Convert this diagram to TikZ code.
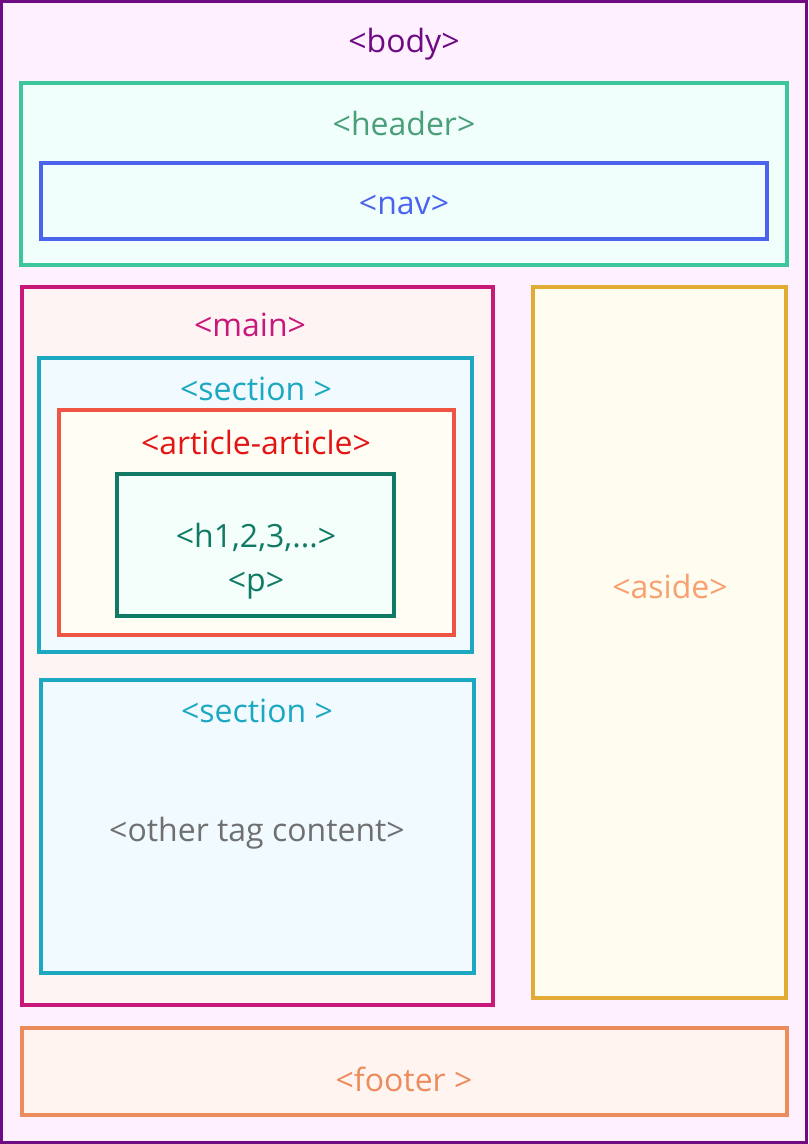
\documentclass[tikz,border=0pt]{standalone}
\usepackage{fontspec}
\setmainfont{Open Sans}
\tikzset{every picture/.style={x=0.75pt, y=-0.75pt}}
\tikzset{box/.style 2 args={draw, rectangle, line width=2.5pt, inner sep=0pt,
    minimum width=#1*0.75pt, minimum height=#2*0.75pt}}
\tikzset{tag/.style={inner sep=0pt, font=\fontsize{24}{28}\selectfont}}
\definecolor{bodyline}{HTML}{6E0A82}
\definecolor{bodyfill}{HTML}{FFF0FF}
\definecolor{headline}{HTML}{3CC69A}
\definecolor{headtext}{HTML}{4A9E78}
\definecolor{headfill}{HTML}{F0FFFC}
\definecolor{navline}{HTML}{4A64EE}
\definecolor{mainline}{HTML}{C8187A}
\definecolor{mainfill}{HTML}{FFF4F4}
\definecolor{secline}{HTML}{1CA8C0}
\definecolor{secfill}{HTML}{F0FAFF}
\definecolor{artline}{HTML}{F05444}
\definecolor{arttext}{HTML}{E21414}
\definecolor{artfill}{HTML}{FFFDF4}
\definecolor{hline}{HTML}{107A64}
\definecolor{hfill}{HTML}{F4FFFC}
\definecolor{asideline}{HTML}{E2AC34}
\definecolor{asidetext}{HTML}{F8A070}
\definecolor{asidefill}{HTML}{FFFCF0}
\definecolor{footline}{HTML}{EC8C5C}
\definecolor{footfill}{HTML}{FFF4F0}
\definecolor{othertext}{HTML}{707070}

\begin{document}
\begin{tikzpicture}
\useasboundingbox (0,0) rectangle (808,1144);
% page and outer boxes
\node[box={805}{1141}, draw=bodyline, fill=bodyfill] (body) at (404,572) {};
\node[box={766}{182}, draw=headline, fill=headfill] (header) at (404,174) {};
\node[box={726}{76}, draw=navline, fill=headfill] (nav) at (404,201) {};
\node[box={471}{718}, draw=mainline, fill=mainfill] (main) at (257.5,646) {};
\node[box={253}{711}, draw=asideline, fill=asidefill] (aside) at (659.5,642.5) {};
\node[box={765}{87}, draw=footline, fill=footfill] (footer) at (404.5,1071.5) {};

% inside main
\node[box={433}{294}, draw=secline, fill=secfill] (sectiona) at (255.5,505) {};
\node[box={395}{225}, draw=artline, fill=artfill] (article) at (256.5,522.5) {};
\node[box={277}{142}, draw=hline, fill=hfill] (heading) at (255.5,545) {};
\node[box={433}{293}, draw=secline, fill=secfill] (sectionb) at (257.5,826.5) {};

% labels
\node[tag, text=bodyline] (bodytag) at (404,44) {<body>};
\node[tag, text=headtext] (headertag) at (404,124) {<header>};
\node[tag, text=navline] (navtag) at (404,205) {<nav>};
\node[tag, text=mainline] (maintag) at (250,325) {<main>};
\node[tag, text=secline] (sectionatag) at (256,389) {<section >};
\node[tag, text=arttext] (articletag) at (256,442) {<article-article>};
\node[tag, text=hline] (htag) at (256,537) {<h1,2,3,...>};
\node[tag, text=hline] (ptag) at (256,586) {<p>};
\node[tag, text=secline] (sectionbtag) at (257,711) {<section >};
\node[tag, text=othertext] (othertag) at (257,833) {<other tag content>};
\node[tag, text=asidetext] (asidetag) at (670,586) {<aside>};
\node[tag, text=footline] (footertag) at (404,1079) {<footer >};
\end{tikzpicture}
\end{document}
